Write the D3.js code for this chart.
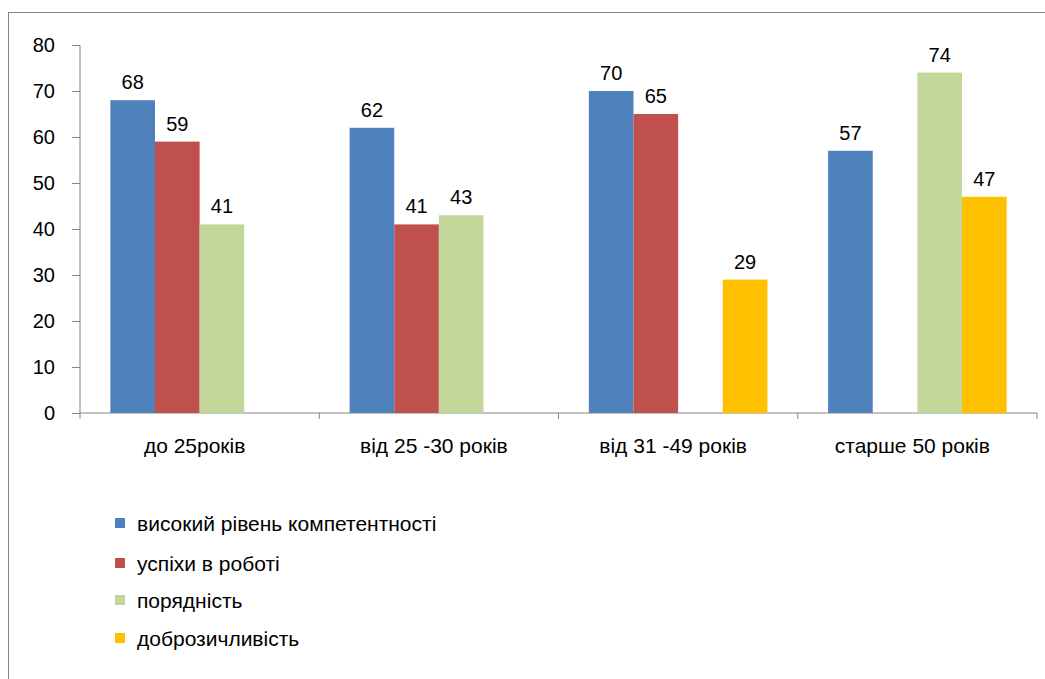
<!DOCTYPE html>
<html>
<head>
<meta charset="utf-8">
<script src="https://cdn.jsdelivr.net/npm/d3@7"></script>
<style>
  body { margin: 0; background: #fff; }
  text { font-family: "Liberation Sans", Arial, sans-serif; fill: #000; }
</style>
</head>
<body>
<div id="chart"></div>
<script>
var categories = ["до 25років", "від 25 -30 років", "від 31 -49 років", "старше 50 років"];
var seriesNames = ["високий рівень компетентності", "успіхи в роботі", "порядність", "доброзичливість"];
var competence = [68, 62, 70, 57];
var success = [59, 41, 65, null];
var decency = [41, 43, null, 74];
var kindness = [null, null, 29, 47];
var colors = ["#4F81BD", "#C0504D", "#C4D79B", "#FFC000"];
var yTicks = [0, 10, 20, 30, 40, 50, 60, 70, 80];

var seriesValues = [competence, success, decency, kindness];

var width = 1045, height = 679;
var margin = {left: 80, right: 8, top: 45, bottom: 266};
var fontSize = "20px";
var textSize = "21px";

var svg = d3.select("#chart").append("svg")
    .attr("width", width)
    .attr("height", height);

// outer frame
svg.append("rect")
    .attr("x", 8.5).attr("y", 12.5)
    .attr("width", 1100).attr("height", 1000)
    .style("fill", "none")
    .style("stroke", "#868686")
    .style("stroke-width", 1);

var x0 = d3.scaleBand()
    .domain(categories)
    .range([margin.left, width - margin.right]);

var x1 = d3.scaleBand()
    .domain(seriesNames)
    .range([0, x0.bandwidth()])
    .paddingOuter(0.68)
    .paddingInner(0);

var y = d3.scaleLinear()
    .domain([0, 80])
    .range([height - margin.bottom, margin.top]);

// y axis
var gy = svg.append("g")
    .attr("transform", "translate(" + margin.left + ",0)")
    .call(d3.axisLeft(y).tickValues(yTicks).tickSize(8).tickPadding(17));
gy.select(".domain").style("stroke", "#868686").attr("d", "M0," + y(80) + "V" + y(0));
gy.selectAll(".tick line").style("stroke", "#868686");
gy.selectAll("text").style("font-size", fontSize).attr("font-family", null);

// x axis
var gx = svg.append("g")
    .attr("transform", "translate(0," + y(0) + ")");
gx.append("line")
    .attr("x1", margin.left).attr("x2", width - margin.right)
    .style("stroke", "#868686");
var bounds = categories.map(function (c) { return x0(c); });
bounds.push(x0(categories[categories.length - 1]) + x0.bandwidth());
gx.selectAll(".xt")
    .data(bounds)
    .enter().append("line")
    .attr("x1", function (d) { return d; })
    .attr("x2", function (d) { return d; })
    .attr("y1", 0).attr("y2", 6)
    .style("stroke", "#868686");
gx.selectAll(".xl")
    .data(categories)
    .enter().append("text")
    .attr("x", function (d) { return x0(d) + x0.bandwidth() / 2 - 5; })
    .attr("y", 40)
    .attr("text-anchor", "middle")
    .style("font-size", textSize)
    .text(function (d) { return d; });

// bars
var points = [];
seriesValues.forEach(function (vals, s) {
    vals.forEach(function (v, c) {
        if (v !== null) points.push({s: s, c: c, v: v});
    });
});

svg.selectAll(".bar")
    .data(points)
    .enter().append("rect")
    .attr("class", "bar")
    .attr("x", function (d) { return x0(categories[d.c]) + x1(seriesNames[d.s]); })
    .attr("width", x1.bandwidth())
    .attr("y", function (d) { return y(d.v); })
    .attr("height", function (d) { return y(0) - y(d.v); })
    .style("fill", function (d) { return colors[d.s]; });

svg.selectAll(".label")
    .data(points)
    .enter().append("text")
    .attr("class", "label")
    .attr("x", function (d) { return x0(categories[d.c]) + x1(seriesNames[d.s]) + x1.bandwidth() / 2; })
    .attr("y", function (d) { return y(d.v) - 11; })
    .attr("text-anchor", "middle")
    .style("font-size", fontSize)
    .text(function (d) { return d.v; });

// legend
var legend = svg.selectAll(".legend")
    .data(seriesNames)
    .enter().append("g")
    .attr("transform", function (d, i) { return "translate(115," + [518, 558, 595, 633][i] + ")"; });
legend.append("rect")
    .attr("x", 0).attr("y", 0)
    .attr("width", 10).attr("height", 10)
    .style("fill", function (d, i) { return colors[i]; });
legend.append("text")
    .attr("x", 22).attr("y", 13)
    .style("font-size", textSize)
    .text(function (d) { return d; });
</script>
</body>
</html>
